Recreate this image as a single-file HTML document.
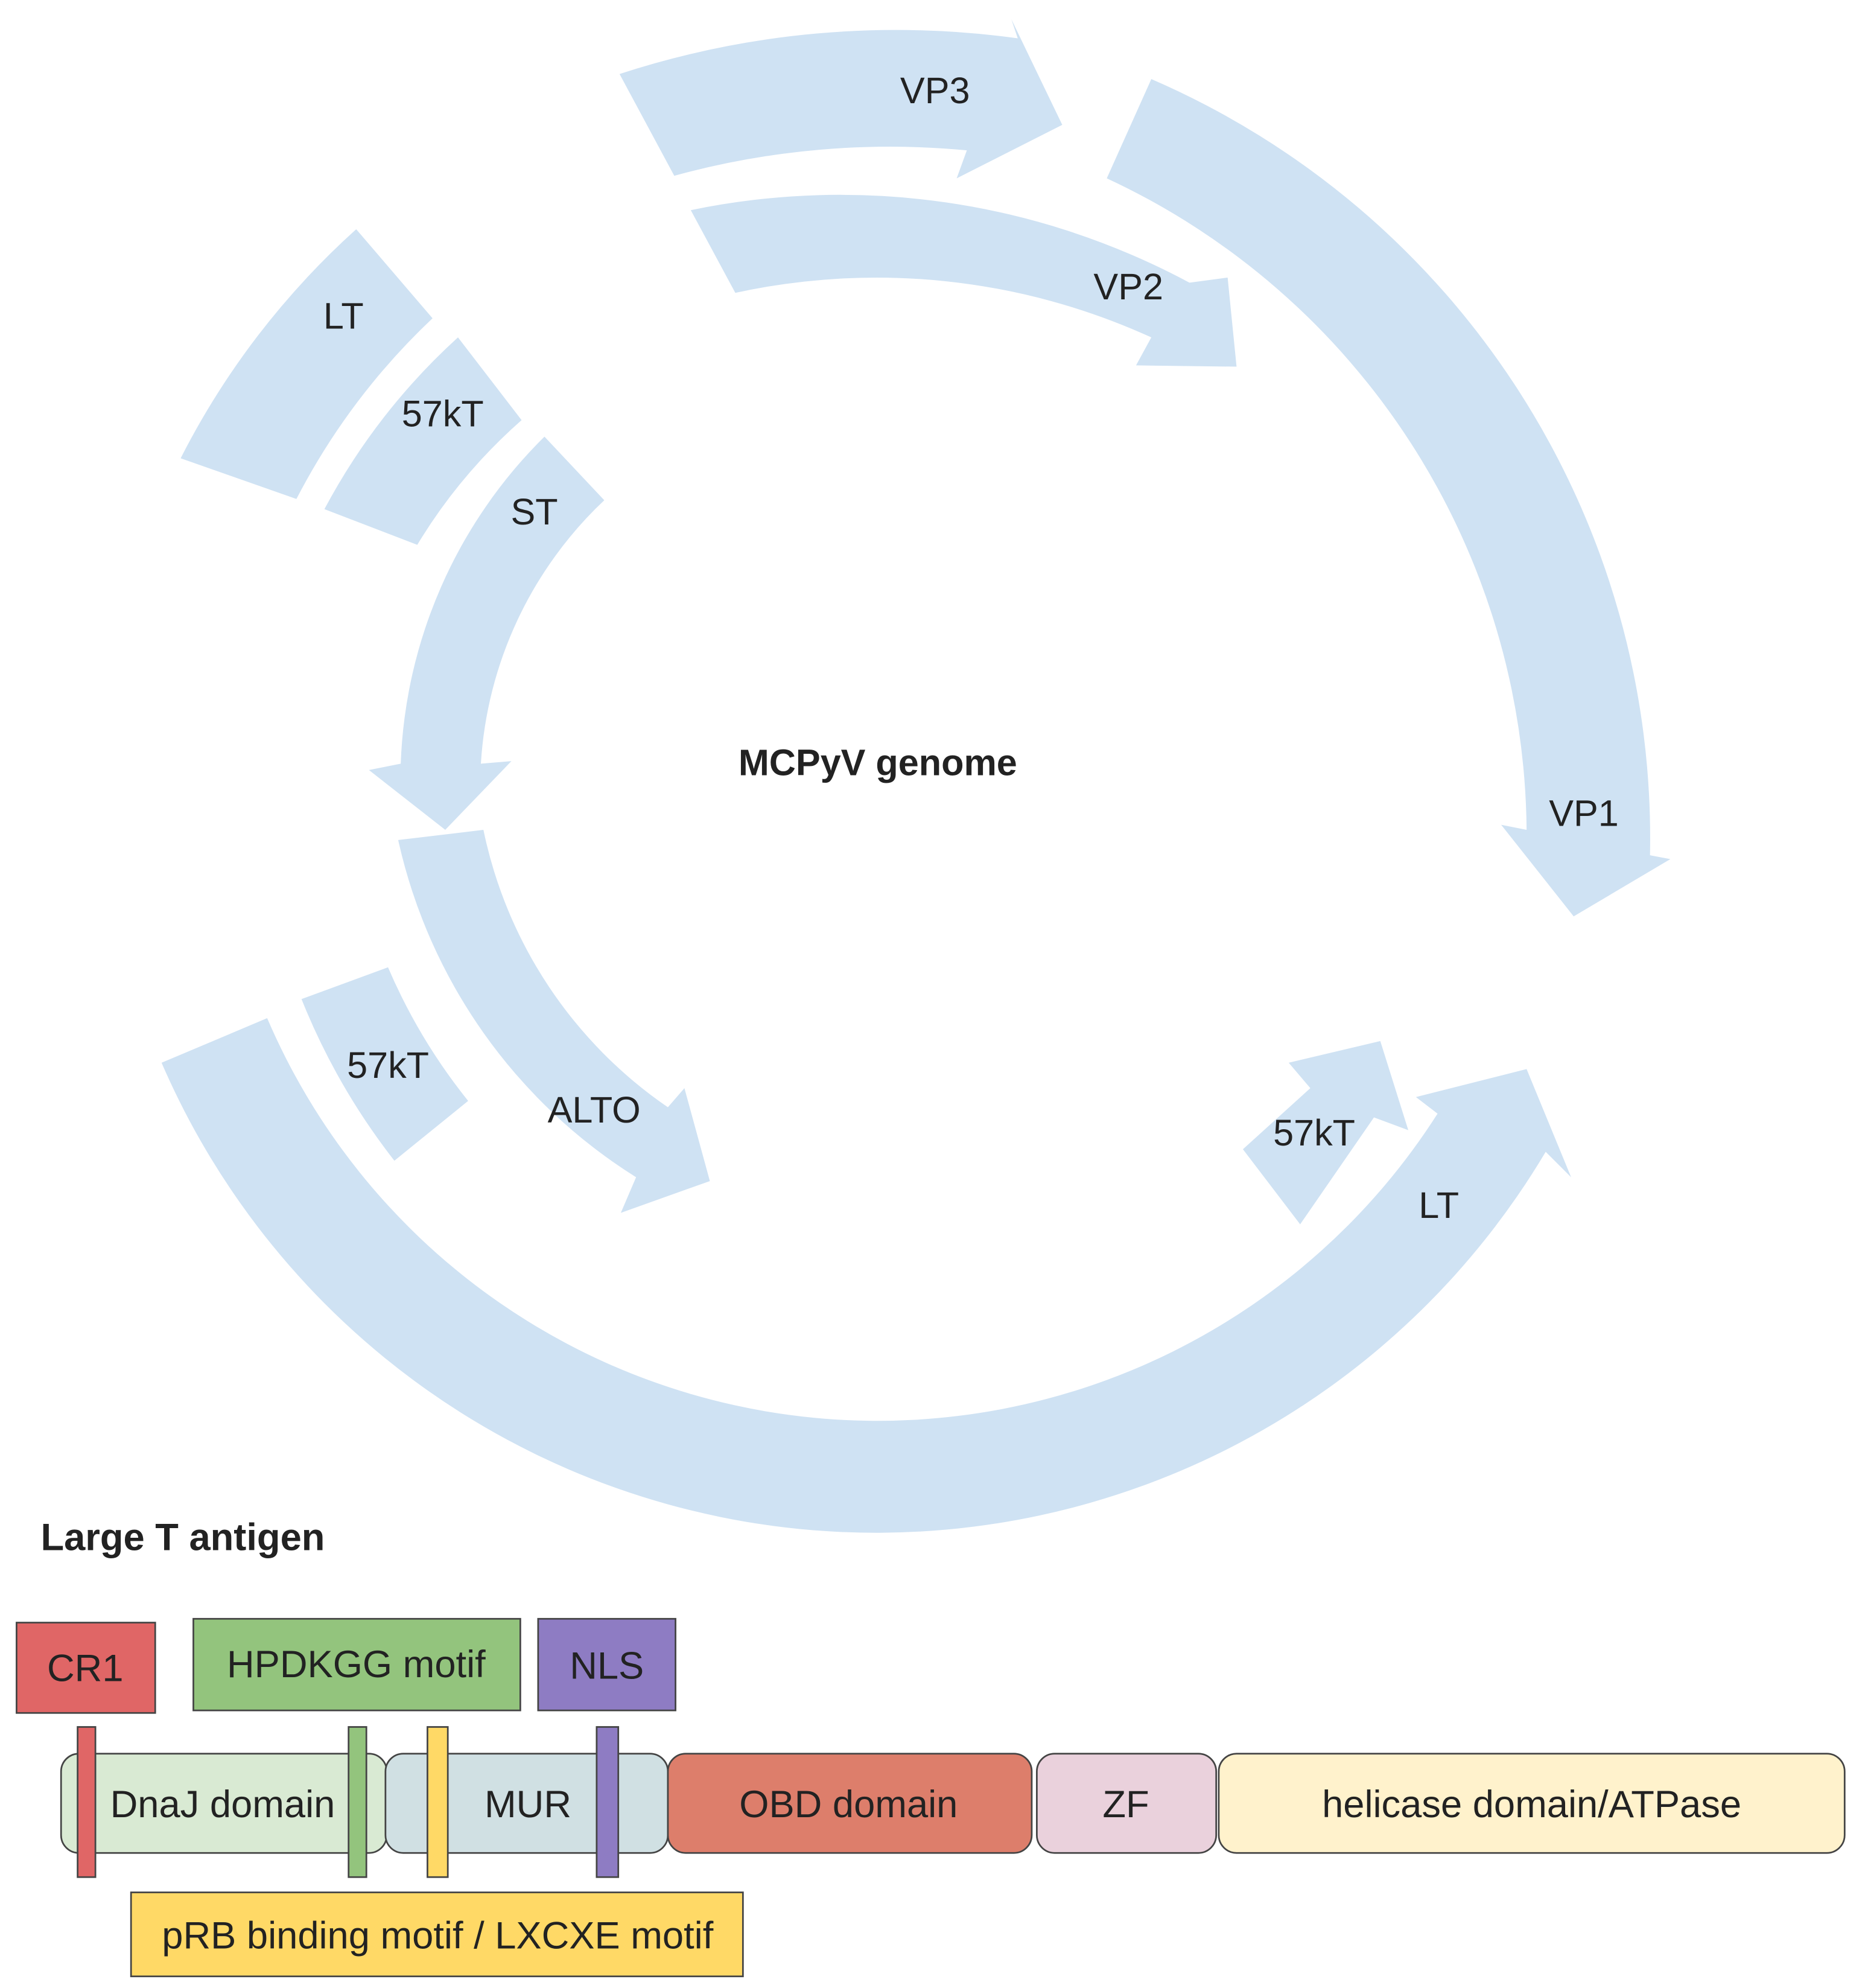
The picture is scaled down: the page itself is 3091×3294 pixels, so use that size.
<!DOCTYPE html>
<html><head><meta charset="utf-8"><style>
html,body{margin:0;padding:0;background:#fff;}
svg{display:block;}
text{font-family:"Liberation Sans",Arial,sans-serif;fill:#222;}
</style></head><body>
<svg width="3091" height="3294" viewBox="0 0 1466 1562" xmlns="http://www.w3.org/2000/svg">
<g fill="#cfe2f3">
<path d="M487,58 A 700 700 0 0 1 800,30 L795,15 L835,98 L752,140 L760,118 A 640 640 0 0 0 530,138 Z"/>
<path d="M543,165 A 580 580 0 0 1 935,222 L965,218 L972,288 L893,287 L905,265 A 520 520 0 0 0 578,230 Z"/>
<path d="M905,62 A 650 650 0 0 1 1297,672 L1313,675 L1237,720 L1180,648 L1200,652 A 570 570 0 0 0 870,140 Z"/>
<path d="M142,360 A 620 620 0 0 1 280,180 L340,250 A 530 530 0 0 0 233,392 Z"/>
<path d="M255,400 A 500 500 0 0 1 360,265 L410,330 A 420 420 0 0 0 328,428 Z"/>
<path d="M428,343 A 380 380 0 0 0 315,600 L290,605 L350,652 L402,598 L378,600 A 310 310 0 0 1 475,393 Z"/>
<path d="M313,660 A 420 420 0 0 0 500,925 L488,953 L558,928 L538,855 L525,870 A 350 350 0 0 1 380,652 Z"/>
<path d="M237,785 L305,760 A 450 450 0 0 0 368,865 L310,912 A 520 520 0 0 1 237,785 Z"/>
<path d="M977,903 L1030,855 L1013,835 L1085,818 L1107,888 L1080,878 L1022,962 Z"/>
<path d="M127,835 A 612 612 0 0 0 1215,905 L1235,925 L1200,840 L1113,862 L1130,875 A 522 522 0 0 1 210,800 Z"/>
</g>
<g font-size="29" text-anchor="middle">
<text x="735" y="81">VP3</text>
<text x="887" y="235">VP2</text>
<text x="1245" y="649">VP1</text>
<text x="270" y="258">LT</text>
<text x="348" y="335">57kT</text>
<text x="420" y="412">ST</text>
<text x="467" y="882">ALTO</text>
<text x="305" y="847">57kT</text>
<text x="1033" y="900">57kT</text>
<text x="1131" y="957">LT</text>
<text x="690" y="609" font-weight="bold" font-size="29">MCPyV genome</text>
</g>
<text x="32" y="1218" font-size="30" font-weight="bold">Large T antigen</text>
<g stroke="#444" stroke-width="1.3">
<rect x="48" y="1378" width="256" height="78" rx="14" fill="#d9ead3"/>
<rect x="303" y="1378" width="222" height="78" rx="14" fill="#d0e0e3"/>
<rect x="525" y="1378" width="286" height="78" rx="14" fill="#dd7e6b"/>
<rect x="815" y="1378" width="141" height="78" rx="14" fill="#ead1dc"/>
<rect x="958" y="1378" width="492" height="78" rx="14" fill="#fff2cc"/>
<rect x="13" y="1275" width="109" height="71" fill="#e06666"/>
<rect x="152" y="1272" width="257" height="72" fill="#93c47d"/>
<rect x="423" y="1272" width="108" height="72" fill="#8e7cc3"/>
<rect x="103" y="1487" width="481" height="66" fill="#ffd966"/>
<rect x="61" y="1357" width="14" height="118" fill="#e06666"/>
<rect x="274" y="1357" width="14" height="118" fill="#93c47d"/>
<rect x="336" y="1357" width="16" height="118" fill="#ffd966"/>
<rect x="469" y="1357" width="17" height="118" fill="#8e7cc3"/>
</g>
<g font-size="30" text-anchor="middle">
<text x="67" y="1321">CR1</text>
<text x="280" y="1318">HPDKGG motif</text>
<text x="477" y="1319">NLS</text>
<text x="175" y="1428">DnaJ domain</text>
<text x="415" y="1428">MUR</text>
<text x="667" y="1428">OBD domain</text>
<text x="885" y="1428">ZF</text>
<text x="1204" y="1428">helicase domain/ATPase</text>
<text x="344" y="1531">pRB binding motif / LXCXE motif</text>
</g>
</svg>
</body></html>
